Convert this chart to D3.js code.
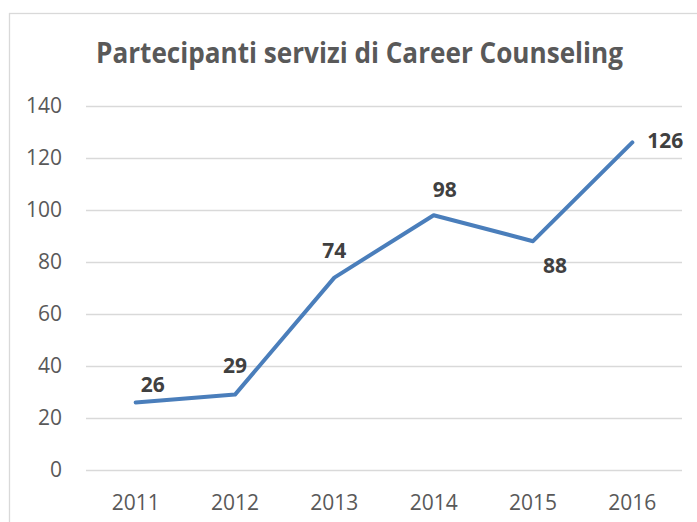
<!DOCTYPE html>
<html>
<head>
<meta charset="utf-8">
<script src="https://cdn.jsdelivr.net/npm/d3@7"></script>
<style>
  body { margin: 0; background: #fff; }
  svg { display: block; font-family: "Open Sans", sans-serif; }
</style>
</head>
<body>
<div id="chart"></div>
<script>
// dati
let years = ["2011", "2012", "2013", "2014", "2015", "2016"]
let partecipanti = [26, 29, 74, 98, 88, 126]
let yTicks = [0, 20, 40, 60, 80, 100, 120, 140]
let title = "Partecipanti servizi di Career Counseling"

let width = 697
let height = 522

let svg = d3.select("#chart")
    .append("svg")
    .attr("width", width)
    .attr("height", height)

// cornice del grafico (esce dalla finestra a destra e in basso)
svg.append("rect")
    .attr("x", 9.5)
    .attr("y", 13.5)
    .attr("width", 720)
    .attr("height", 540)
    .attr("fill", "#fff")
    .attr("stroke", "#d9d9d9")
    .attr("stroke-width", 1.3)

// titolo
svg.append("text")
    .attr("x", 359.5)
    .attr("y", 63)
    .attr("text-anchor", "middle")
    .attr("textLength", 527)
    .attr("lengthAdjust", "spacingAndGlyphs")
    .style("font-size", "28px")
    .style("font-weight", "bold")
    .attr("fill", "#595959")
    .text(title)

let x = d3.scaleBand()
    .domain(years)
    .range([86, 682])

let y = d3.scaleLinear()
    .domain([0, 140])
    .range([470, 106])

// asse y + griglia
svg.append("g")
    .attr("transform", "translate(86,0)")
    .call(d3.axisLeft(y).tickValues(yTicks).tickSize(-(682 - 86)).tickPadding(24))
    .call(g => g.select(".domain").remove())
    .call(g => g.selectAll(".tick line").attr("stroke", "#d9d9d9").attr("stroke-width", 1.3))
    .call(g => g.selectAll(".tick text")
        .attr("fill", "#595959")
        .style("font-size", "21px")
        .style("font-family", "'Open Sans', sans-serif"))

// asse x
svg.append("g")
    .attr("transform", "translate(0,470)")
    .call(d3.axisBottom(x).tickSize(0))
    .call(g => g.select(".domain").remove())
    .call(g => g.selectAll(".tick text")
        .attr("y", 40)
        .attr("dy", 0)
        .attr("fill", "#595959")
        .style("font-size", "21px")
        .style("font-family", "'Open Sans', sans-serif"))

let cx = d => x(d) + x.bandwidth() / 2

// linea
let line = d3.line()
    .x((d, i) => cx(years[i]))
    .y(d => y(d))

svg.append("path")
    .datum(partecipanti)
    .attr("d", line)
    .attr("fill", "none")
    .attr("stroke", "#4a7ebb")
    .attr("stroke-width", 4)
    .attr("stroke-linejoin", "round")
    .attr("stroke-linecap", "round")

// etichette dati (spostate a mano come nell'originale)
let labelShift = [[17, -10], [0, -22], [0, -20], [11, -18], [22, 32], [33, 6]]

svg.append("g")
    .selectAll("text")
    .data(partecipanti)
    .join("text")
    .attr("x", (d, i) => cx(years[i]) + labelShift[i][0])
    .attr("y", (d, i) => y(d) + labelShift[i][1])
    .attr("text-anchor", "middle")
    .style("font-size", "21px")
    .style("font-weight", "bold")
    .attr("fill", "#404040")
    .text(d => d)
</script>
</body>
</html>
